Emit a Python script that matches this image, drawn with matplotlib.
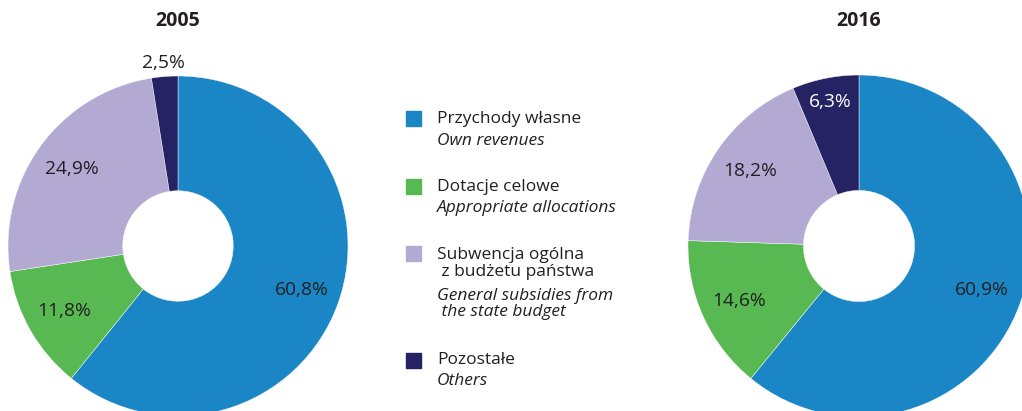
"""
Struktura dochodów: 2005 vs 2016, dwa wykresy pierścieniowe z legendą pośrodku.
"""
import numpy as np
import matplotlib.pyplot as plt
from matplotlib.patches import Rectangle

plt.rcParams['font.family'] = ['Open Sans', 'DejaVu Sans']

W, H = 1022, 411
TEXT = '#231f20'

years = ['2005', '2016']
shares_2005 = [60.8, 11.8, 24.9, 2.5]
shares_2016 = [60.9, 14.6, 18.2, 6.3]
labels_2005 = ['60,8%', '11,8%', '24,9%', '2,5%']
labels_2016 = ['60,9%', '14,6%', '18,2%', '6,3%']
colors = ['#1a86c6', '#58b952', '#b3aad4', '#262364']

legend_pl = ['Przychody własne', 'Dotacje celowe',
             'Subwencja ogólna\n z budżetu państwa', 'Pozostałe']
legend_en = ['Own revenues', 'Appropriate allocations',
             'General subsidies from\n the state budget', 'Others']

# promień etykiet (część promienia) i kolor etykiet
label_r = {'2005': [0.77, 0.77, 0.77, 1.08], '2016': [0.76, 0.77, 0.77, 0.86]}
label_c = {'2005': [TEXT] * 4, '2016': [TEXT, TEXT, TEXT, 'white']}


def px_axes(fig, cx, cy, r):
    """Osie w pikselach: środek (cx, cy) od góry-lewej, promień r."""
    ax = fig.add_axes([(cx - r) / W, (H - cy - r) / H, 2 * r / W, 2 * r / H])
    ax.axis('off')
    return ax


def donut(ax, values, labels, radii, tcolors):
    wedges, _ = ax.pie(values, colors=colors, startangle=90, counterclock=False,
                       radius=1, wedgeprops=dict(width=0.675, edgecolor='white',
                                                 linewidth=0.3))
    # pie ustawia własne granice (-1.25, 1.25) - nadpisujemy
    ax.set_xlim(-1, 1)
    ax.set_ylim(-1, 1)
    ax.set_aspect('equal')
    for w, lab, rr, tc in zip(wedges, labels, radii, tcolors):
        ang = np.deg2rad((w.theta1 + w.theta2) / 2)
        ax.text(rr * np.cos(ang), rr * np.sin(ang), lab, ha='center', va='center',
                fontsize=13.8, color=tc, clip_on=False)


fig = plt.figure(figsize=(W / 100, H / 100), dpi=100)

ax1 = px_axes(fig, 178, 246, 170)
donut(ax1, shares_2005, labels_2005, label_r['2005'], label_c['2005'])
ax2 = px_axes(fig, 859, 246, 171)
donut(ax2, shares_2016, labels_2016, label_r['2016'], label_c['2016'])

for year, cx in zip(years, [178, 859]):
    fig.text(cx / W, 1 - 21 / H, year, ha='center', va='center',
             fontsize=14, fontweight='bold', color=TEXT)

# legenda rysowana ręcznie
sq_y = [119, 187, 254, 360]
en_y = [141, 208, 304, 381]
for col, pl, en, ys, ye in zip(colors, legend_pl, legend_en, sq_y, en_y):
    fig.patches.append(Rectangle((406 / W, 1 - (ys + 7.5) / H), 15 / W, 15 / H,
                                 transform=fig.transFigure, color=col))
    n = pl.count('\n')
    fig.text(437 / W, 1 - (ys + n * 9.5) / H, pl, ha='left', va='center',
             fontsize=12.5, color=TEXT, linespacing=1.07)
    fig.text(437 / W, 1 - ye / H, en, ha='left', va='center',
             fontsize=12.5, color=TEXT, style='italic', linespacing=0.98)

fig.savefig('out.png', dpi=100)
plt.close(fig)
